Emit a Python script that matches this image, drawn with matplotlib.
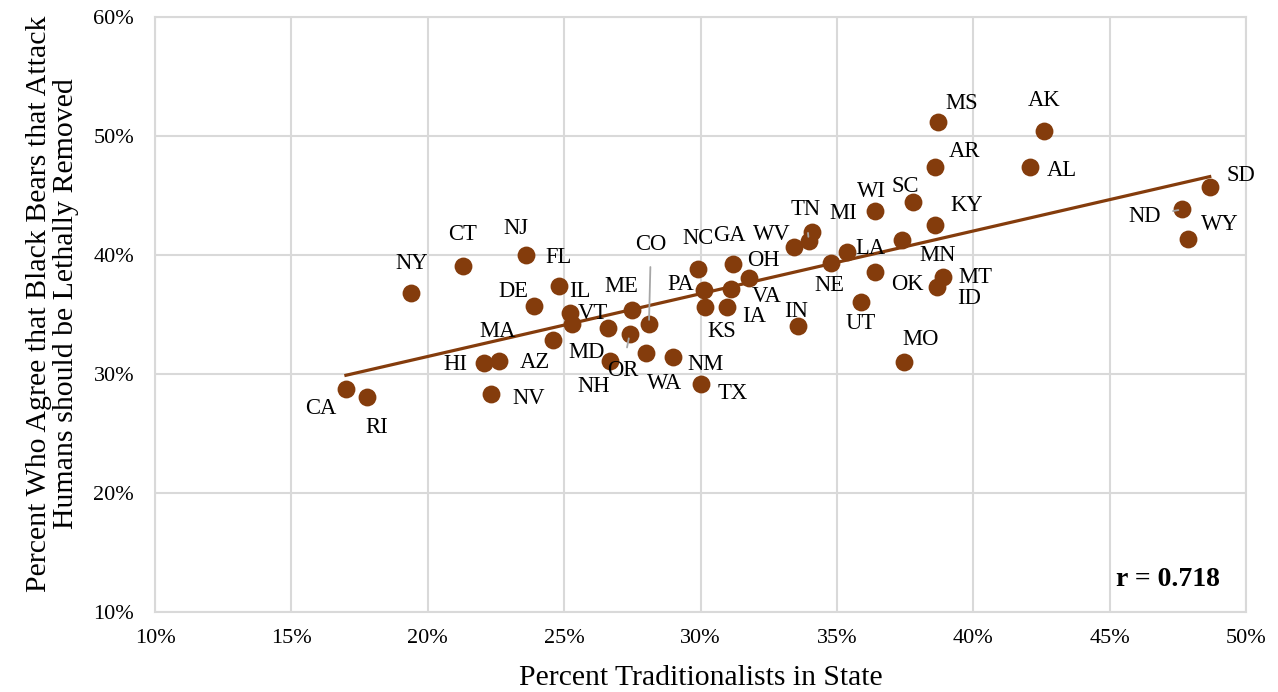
import numpy as np
import matplotlib
matplotlib.use("Agg")
import matplotlib.pyplot as plt
from matplotlib.ticker import FuncFormatter

plt.rcParams['font.family'] = ['Liberation Serif', 'DejaVu Serif']

# state, % traditionalists, % agree lethal removal
states = ["CA", "RI", "NY", "CT", "NJ", "DE", "HI", "MA", "NV", "AZ",
          "FL", "IL", "VT", "MD", "NH", "OR", "ME", "CO", "WA", "NM",
          "TX", "NC", "PA", "KS", "GA", "VA", "IA", "OH", "IN", "WV",
          "TN", "MI", "LA", "NE", "MN", "OK", "UT", "MO", "MT", "ID",
          "KY", "SC", "WI", "AR", "MS", "AL", "AK", "SD", "ND", "WY"]
trad = [17.0, 17.79, 19.40, 21.29, 23.62, 23.89, 22.08, 22.60, 22.31, 24.59,
        24.80, 25.20, 25.29, 26.60, 26.69, 27.40, 27.50, 28.11, 28.01, 28.99,
        30.00, 29.90, 30.12, 30.18, 31.18, 31.10, 30.98, 31.79, 33.59, 33.44,
        33.97, 34.09, 35.37, 34.79, 37.39, 36.40, 35.89, 37.47, 38.88, 38.67,
        38.58, 37.78, 36.40, 38.58, 38.69, 42.09, 42.58, 48.67, 47.67, 47.89]
agree = [28.74, 28.09, 36.78, 39.10, 40.00, 35.71, 30.95, 31.09, 28.32, 32.82,
         37.39, 35.15, 34.18, 33.84, 31.12, 33.34, 35.38, 34.20, 31.74, 31.45,
         29.13, 38.82, 37.06, 35.66, 39.22, 37.12, 35.66, 38.04, 34.07, 40.70,
         41.18, 41.91, 40.28, 39.30, 41.26, 38.60, 36.08, 31.03, 38.13, 37.34,
         42.52, 44.48, 43.70, 47.42, 51.20, 47.37, 50.42, 45.74, 43.84, 41.32]
r_text = "r = 0.718"

# label offsets in pixels (dx, dy) relative to each dot
offsets = {
    "CA": (-25, -20), "RI": (9, -31), "NY": (0, 30), "CT": (0, 31), "NJ": (-11, 26),
    "DE": (-20, 15), "HI": (-29, -2), "MA": (-1, 30), "NV": (38, -5), "AZ": (-18, -22),
    "FL": (0, 29), "IL": (10, 21), "VT": (21, 11), "MD": (-21, -24), "NH": (-17, -26),
    "OR": (-7, -36), "ME": (-11, 23), "CO": (2, 80), "WA": (18, -30), "NM": (33, -8),
    "TX": (32, -9), "NC": (0, 31), "PA": (-23, 5), "KS": (16, -25), "GA": (-3, 29),
    "VA": (36, -7), "IA": (27, -10), "OH": (14, 18), "IN": (-2, 14), "WV": (-22, 12),
    "TN": (-3, 31), "MI": (31, 19), "LA": (24, 3), "NE": (-2, -22), "MN": (36, -15),
    "OK": (32, -13), "UT": (0, -22), "MO": (16, 22), "MT": (33, 0), "ID": (32, -12),
    "KY": (32, 20), "SC": (-7, 15), "WI": (-4, 19), "AR": (30, 15), "MS": (24, 18),
    "AL": (32, -3), "AK": (0, 31), "SD": (31, 11), "ND": (-38, -7), "WY": (31, 15),
}
leaders = ["CO", "OR", "TN", "ND"]

brown = "#843C0C"
grid_c = "#D9D9D9"

fig = plt.figure(figsize=(12.78, 6.92), dpi=100)
ax = fig.add_axes([155 / 1278, 1 - 612 / 692, (1246 - 155) / 1278, (612 - 17) / 692])

ax.scatter(trad, agree, s=165, color=brown, zorder=3, linewidths=0)

# linear trend line
slope, icpt = np.polyfit(trad, agree, 1)
xs = np.array([min(trad), max(trad)])
ax.plot(xs, slope * xs + icpt, color=brown, lw=2.3, zorder=2)

for st, x, y in zip(states, trad, agree):
    dx, dy = offsets[st]
    if st in leaders:
        ax.annotate(st, (x, y), xytext=(dx, dy), textcoords="offset pixels",
                    ha="center", va="center", fontsize=16.3, zorder=4,
                    arrowprops=dict(arrowstyle="-", color="#A6A6A6", lw=1.3,
                                    shrinkA=7, shrinkB=3))
    else:
        ax.annotate(st, (x, y), xytext=(dx, dy), textcoords="offset pixels",
                    ha="center", va="center", fontsize=16.3, zorder=4)

ax.set_xlim(10, 50)
ax.set_ylim(10, 60)
ax.set_xticks(np.arange(10, 51, 5))
ax.set_yticks(np.arange(10, 61, 10))
pct = FuncFormatter(lambda v, p: "%d%%" % v)
ax.xaxis.set_major_formatter(pct)
ax.yaxis.set_major_formatter(pct)
ax.tick_params(length=0, labelsize=16)
ax.tick_params(axis="x", pad=12)
ax.tick_params(axis="y", pad=15)
ax.grid(True, color=grid_c, lw=1.5, zorder=0)
ax.set_axisbelow(True)
for sp in ax.spines.values():
    sp.set_color(grid_c)
    sp.set_linewidth(1.5)

ax.text(0.976, 0.054, r_text, transform=ax.transAxes, ha="right", va="center",
        fontsize=20, fontweight="bold")

fig.text(701 / 1278, 1 - 678 / 692, "Percent Traditionalists in State",
         ha="center", va="center", fontsize=21.3)
fig.text(53 / 1278, 1 - 304 / 692,
         "Percent Who Agree that Black Bears that Attack\nHumans should be Lethally Removed",
         ha="center", va="center", rotation=90, fontsize=21.5, linespacing=1.05)

fig.savefig("out.png", dpi=100)
